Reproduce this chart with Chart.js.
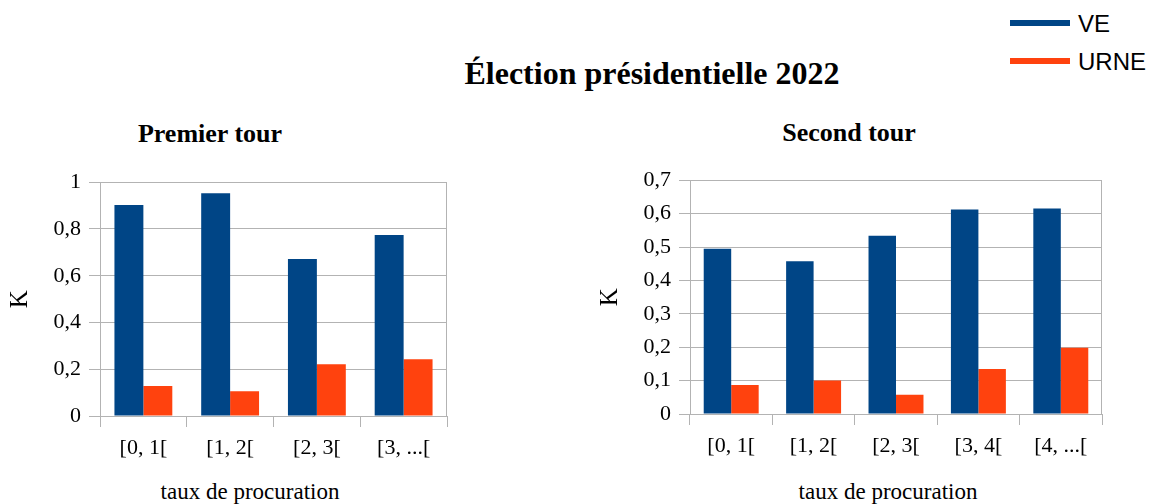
<!DOCTYPE html>
<html lang="fr">
<head>
<meta charset="utf-8">
<title>Élection présidentielle 2022</title>
<script src="https://cdn.jsdelivr.net/npm/chart.js@4.4.1/dist/chart.umd.min.js"></script>
<style>
    html, body { margin: 0; padding: 0; background: #fff; }
    body { width: 1151px; height: 504px; position: relative; overflow: hidden; font-family: 'Liberation Serif', serif; color: #000; }
    .txt { position: absolute; white-space: nowrap; line-height: 1; }
    .center { transform: translateX(-50%); }
    .title { font-weight: bold; }
    .box { position: absolute; }
    #legend { position: absolute; left: 1010px; top: 0; font-family: 'Liberation Sans', Arial, sans-serif; font-size: 24px; }
    .leg-item { position: absolute; left: 0; white-space: nowrap; line-height: 1; }
    .leg-line { position: absolute; left: 0; width: 60px; height: 6px; }
    .leg-label { position: absolute; left: 68px; }
</style>
</head>
<body>
<div class="txt center title" style="left:652px; top:57px; font-size:32px;">Élection présidentielle 2022</div>
<div class="txt center title" style="left:210px; top:121px; font-size:26px;">Premier tour</div>
<div class="txt center title" style="left:849px; top:120px; font-size:26px;">Second tour</div>
<div class="txt center" style="left:250px; top:480px; font-size:23px;">taux de procuration</div>
<div class="txt center" style="left:888px; top:480px; font-size:23px;">taux de procuration</div>
<div id="legend"></div>

<div class="box" style="left:0px; top:161px; width:457px; height:305px;"><canvas id="tour1"></canvas></div>
<div class="box" style="left:590px; top:159px; width:522px; height:305px;"><canvas id="tour2"></canvas></div>

<script>
// Premier tour
const categories1 = ['[0, 1[', '[1, 2[', '[2, 3[', '[3, ...['];
const ve1 = [0.902, 0.953, 0.672, 0.774];
const urne1 = [0.128, 0.106, 0.221, 0.243];

// Second tour
const categories2 = ['[0, 1[', '[1, 2[', '[2, 3[', '[3, 4[', '[4, ...['];
const ve2 = [0.495, 0.457, 0.534, 0.612, 0.615];
const urne2 = [0.087, 0.100, 0.058, 0.135, 0.198];

const seriesNames = ['VE', 'URNE'];
const seriesColors = ['#004586', '#ff420e'];

const GRID = '#b3b3b3';

Chart.defaults.font.family = "'Liberation Serif', 'Times New Roman', serif";
Chart.defaults.color = '#000';

// Legend (shared by both charts)
const legendDiv = document.getElementById('legend');
const legendTops = [12, 50];
seriesNames.forEach((name, i) => {
    const item = document.createElement('div');
    item.className = 'leg-item';
    item.style.top = legendTops[i] + 'px';
    item.innerHTML = `<div class="leg-line" style="top:${8}px; background:${seriesColors[i]}"></div>` +
        `<span class="leg-label">${name}</span>`;
    legendDiv.appendChild(item);
});

// plot frame (right and top edges of the plot area)
const framePlugin = {
    id: 'frame',
    beforeDatasetsDraw(chart) {
        const a = chart.chartArea;
        const ctx = chart.ctx;
        ctx.save();
        ctx.strokeStyle = GRID;
        ctx.lineWidth = 1;
        ctx.strokeRect(Math.round(a.left) + 0.5, Math.round(a.top) + 0.5,
            Math.round(a.right - a.left) - 1, Math.round(a.bottom - a.top));
        ctx.restore();
    },
};

function commaLabel(v) {
    return String(Math.round(v * 10) / 10).replace('.', ',');
}

function renderChart(id, labels, ve, urne, yMax, yStep) {
    return new Chart(document.getElementById(id), {
        type: 'bar',
        data: {
            labels: labels,
            datasets: [
                {
                    label: seriesNames[0],
                    data: ve,
                    backgroundColor: seriesColors[0],
                    categoryPercentage: 0.667,
                    barPercentage: 1.0,
                },
                {
                    label: seriesNames[1],
                    data: urne,
                    backgroundColor: seriesColors[1],
                    categoryPercentage: 0.667,
                    barPercentage: 1.0,
                },
            ],
        },
        options: {
            responsive: true,
            maintainAspectRatio: false,
            animation: false,
            layout: { padding: { top: 20, right: 10, bottom: 0, left: 0 } },
            plugins: {
                legend: { display: false },
                tooltip: { enabled: false },
            },
            scales: {
                x: {
                    offset: true,
                    grid: {
                        offset: true,
                        drawOnChartArea: false,
                        color: GRID,
                        tickLength: 11,
                    },
                    border: { color: GRID },
                    ticks: { font: { size: 22 }, padding: 8, maxRotation: 0 },
                    afterFit: (scale) => { scale.height = 50; },
                },
                y: {
                    min: 0,
                    max: yMax,
                    grid: { color: GRID, tickLength: 11 },
                    border: { color: GRID },
                    ticks: {
                        stepSize: yStep,
                        font: { size: 22 },
                        padding: 8,
                        callback: (v) => commaLabel(v),
                    },
                    title: { display: true, text: 'K', font: { size: 25 }, padding: { top: 5, bottom: 0 } },
                    afterFit: (scale) => { scale.width = 100; },
                },
            },
        },
        plugins: [framePlugin],
    });
}

renderChart('tour1', categories1, ve1, urne1, 1, 0.2);
renderChart('tour2', categories2, ve2, urne2, 0.7, 0.1);
</script>
</body>
</html>
